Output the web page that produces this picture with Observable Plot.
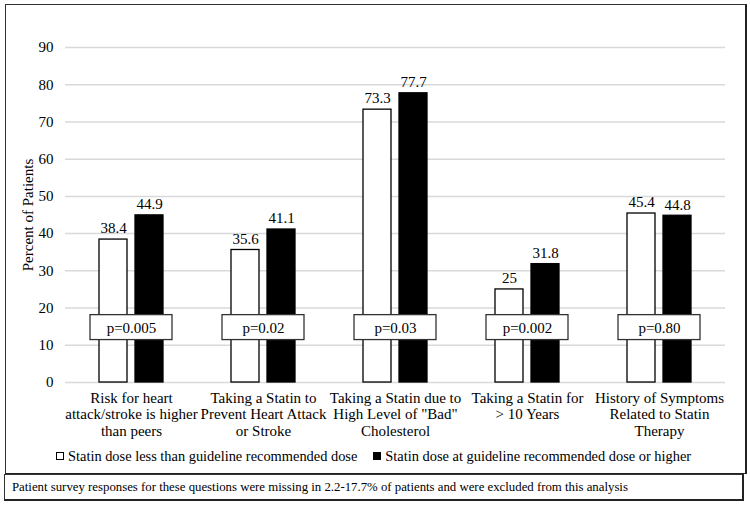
<!DOCTYPE html>
<html>
<head>
<meta charset="utf-8">
<script src="https://cdn.jsdelivr.net/npm/d3@7"></script>
<script src="https://cdn.jsdelivr.net/npm/@observablehq/plot@0.6"></script>
<style>
  html, body { margin: 0; padding: 0; background: #fff; }
  body { font-family: "Liberation Serif", "Times New Roman", serif; color: #000; }
  #wrap { position: relative; width: 750px; height: 506px; overflow: hidden; }
  #chart { position: absolute; left: 0; top: 0; }
  #frame { position: absolute; left: 5px; top: 4px; width: 742px; height: 470px; box-sizing: border-box;
           border: 1px solid #333; border-right: 2px solid #222; border-bottom: 1px solid #222; pointer-events: none; }
  #legend { position: absolute; left: 56px; top: 447px; height: 18px; display: flex; align-items: center;
            font-size: 14.4px; line-height: 18px; white-space: nowrap; }
  .sw { display: inline-block; width: 6px; height: 6px; border: 1px solid #000; margin-right: 4px; }
  #caption { position: absolute; left: 4px; top: 474px; width: 740px; height: 27px; box-sizing: border-box;
             border: 1px solid #333; border-right: 2px solid #222; border-bottom: 2px solid #222;
             font-size: 12.8px; line-height: 25px; padding-left: 7px; white-space: nowrap; }
</style>
</head>
<body>
<div id="wrap">
  <div id="chart"></div>
  <div id="frame"></div>
  <div id="legend"></div>
  <div id="caption"></div>
</div>
<script>
const categories = [
  "Risk for heart\nattack/stroke is higher\nthan peers",
  "Taking a Statin to\nPrevent Heart Attack\nor Stroke",
  "Taking a Statin due to\nHigh Level of \"Bad\"\nCholesterol",
  "Taking a Statin for\n> 10 Years",
  "History of Symptoms\nRelated to Statin\nTherapy"
];
const series = [
  "Statin dose less than guideline recommended dose",
  "Statin dose at guideline recommended dose or higher"
];
const lowDose = [38.4, 35.6, 73.3, 25, 45.4];
const highDose = [44.9, 41.1, 77.7, 31.8, 44.8];
const pValues = ["p=0.005", "p=0.02", "p=0.03", "p=0.002", "p=0.80"];
const pBoxRange = [11.4, 18.1];
const pLabelLevel = 14.7;
const yTicks = [0, 10, 20, 30, 40, 50, 60, 70, 80, 90];
const seriesColors = ["#ffffff", "#000000"];
const captionText = "Patient survey responses for these questions were missing in 2.2-17.7% of patients and were excluded from this analysis";

const data = categories.flatMap((c, i) => [
  {cat: c, series: series[0], value: lowDose[i]},
  {cat: c, series: series[1], value: highDose[i]}
]);
const pData = categories.map((c, i) => ({cat: c, p: pValues[i], lo: pBoxRange[0], hi: pBoxRange[1], mid: pLabelLevel}));

const chart = Plot.plot({
  width: 750,
  height: 450,
  marginLeft: 63,
  marginRight: 24,
  marginTop: 47,
  marginBottom: 68,
  style: {fontFamily: "'Liberation Serif', 'Times New Roman', serif", fontSize: "15px", color: "#000", background: "none"},
  fx: {domain: categories, padding: 0, label: null},
  x: {domain: series, paddingInner: 0.216, paddingOuter: 0.9, axis: null},
  y: {domain: [0, 90], label: "Percent of Patients"},
  color: {domain: series, range: seriesColors},
  marks: [
    Plot.gridY(yTicks, {stroke: "#d9d9d9", strokeOpacity: 1, strokeWidth: 1.5}),
    Plot.axisY(yTicks, {tickSize: 0, tickPadding: 12, fontSize: 15, label: "Percent of Patients",
      labelAnchor: "center", labelArrow: "none", labelOffset: 43}),
    Plot.axisFx({anchor: "bottom", tickSize: 0, tickPadding: 8, lineHeight: 1.13, fontSize: 15, label: null}),
    Plot.barY(data, {fx: "cat", x: "series", y: "value", fill: "series", stroke: "#000", strokeWidth: 1.3}),
    Plot.text(data, {fx: "cat", x: "series", y: "value", text: d => String(d.value), dy: -11, fontSize: 15, fill: "#000"}),
    Plot.barY(pData, {fx: "cat", y1: "lo", y2: "hi", fill: "#fff", stroke: "#333", strokeWidth: 1.3, insetLeft: 25, insetRight: 25}),
    Plot.text(pData, {fx: "cat", y: "mid", text: "p", fontSize: 15, fill: "#000"})
  ]
});
document.getElementById("chart").appendChild(chart);

const legend = document.getElementById("legend");
series.forEach((s, i) => {
  const item = document.createElement("span");
  item.style.display = "inline-flex";
  item.style.alignItems = "center";
  if (i > 0) item.style.marginLeft = "16px";
  const sw = document.createElement("span");
  sw.className = "sw";
  sw.style.background = seriesColors[i];
  item.appendChild(sw);
  const t = document.createElement("span");
  t.textContent = s;
  item.appendChild(t);
  legend.appendChild(item);
});
document.getElementById("caption").textContent = captionText;
</script>
</body>
</html>
